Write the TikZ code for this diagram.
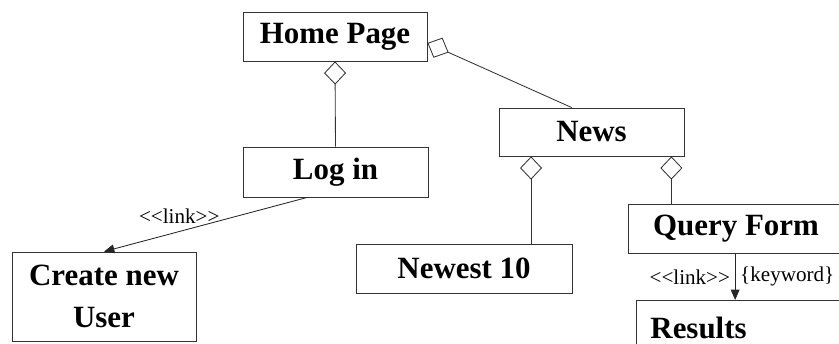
\documentclass[tikz,border=0pt]{standalone}
\usepackage{fontspec}
\setmainfont{Liberation Serif}[Ligatures=TeXOff]
\usepackage{tikz}
\usetikzlibrary{shapes,arrows}
\usetikzlibrary{arrows.meta, positioning}
\tikzstyle{page} = [draw=black!80, line width=0.6pt, rectangle, inner sep=0pt, minimum width=4.6cm, minimum height=1.225cm, font=\fontsize{22}{30}\selectfont\bfseries]
\tikzstyle{link} = [draw=black!85, line width=0.6pt, -{Triangle[length=0.26cm, width=0.22cm]}]
\tikzstyle{agg} = [draw=black!80, line width=0.6pt, {Diamond[open, length=0.58cm, width=0.55cm]}-]
\tikzstyle{tag} = [font=\fontsize{15}{18}\selectfont]

\begin{document}
\begin{tikzpicture}
	\useasboundingbox (0,0) rectangle (20.975,8.6);
	\clip (0,0) rectangle (20.975,8.6);
	
	% Paginas
	\node[page] (home) at (8.375,7.6875) {Home Page};
	\node[page, minimum width=4.625cm, minimum height=1.25cm] (login) at (8.3875,4.3) {Log in};
	\node[page, minimum width=4.625cm, minimum height=1.2cm] (news) at (14.7875,5.3) {News};
	\node[page, minimum width=5.4cm] (newest) at (11.6,1.8875) {Newest 10};
	\node[page, minimum width=5.4cm] (query) at (18.4,2.8875) {Query Form};
	\node[page, minimum height=2.225cm, align=center] (create) at (2.6,1.1875) {Create new\\User};
	\node[page, anchor=north west, text width=4.7cm, inner xsep=0.35cm, minimum height=1.375cm, align=left] (results) at (15.9,1.1) {Results};
	
	% Agregaciones
	\draw[agg] (home.-4) -- (news.129);
	\draw[agg] (home.south) -- (login.north);
	\draw[agg] (news.202) -- (news.202 |- newest.north);
	\draw[agg] (news.-17) -- (news.-17 |- query.north);
	
	% Enlaces
	\draw[link] (login.222) -- node[tag, pos=0.63, above=0.2cm, inner sep=0pt] {<<link>>} (create.north);
	\draw[link] (query.-92) -- node[tag, left] {<<link>>} node[tag, right] {\{keyword\}} (query.-92 |- results.north);
\end{tikzpicture}
\end{document}
